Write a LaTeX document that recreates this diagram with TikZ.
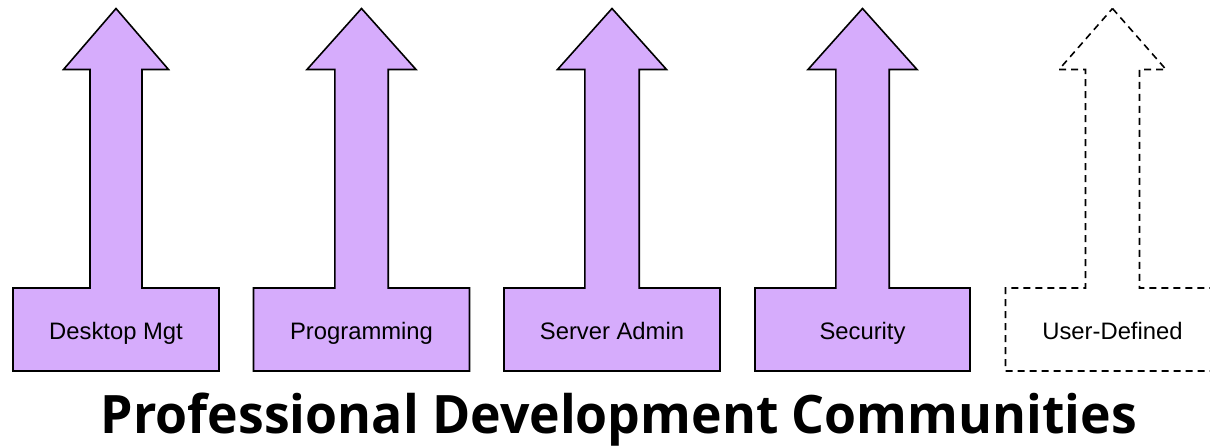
\documentclass[tikz,border=0pt]{standalone}
\usepackage{fontspec}
\setmainfont{Liberation Sans}
\newfontfamily\titlefont{Open Sans}
\definecolor{lav}{RGB}{214,172,252}
\begin{document}
\begin{tikzpicture}[x=1pt,y=-1pt,
  arrowshape/.style={draw=black,line width=1.6pt,line join=miter},
  filledarrow/.style={arrowshape,fill=lav},
  dashedarrow/.style={arrowshape,dash pattern=on 7pt off 5pt},
  lbl/.style={font=\fontsize{23.8}{28}\selectfont,inner sep=0pt,anchor=base},
  titlestyle/.style={font=\titlefont\bfseries\fontsize{53}{60}\selectfont,inner sep=0pt,anchor=base}]
\useasboundingbox (0,0) rectangle (1210,445);
\clip (0,0) rectangle (1210,445);
\def\tipy{8.5}\def\heady{69.5}\def\boxtop{288}\def\boxbot{371}
\foreach \cx/\hw/\sw/\bw/\txt/\nm in {116/52.5/26/103/Desktop Mgt/a1,361.5/54.5/26.7/108/Programming/a2,612/54.5/27.2/108/Server Admin/a3,862.5/54.5/26.7/107.5/Security/a4}{
  \draw[filledarrow] (\cx,\tipy) -- (\cx+\hw,\heady) -- (\cx+\sw,\heady) -- (\cx+\sw,\boxtop)
    -- (\cx+\bw,\boxtop) -- (\cx+\bw,\boxbot) -- (\cx-\bw,\boxbot) -- (\cx-\bw,\boxtop)
    -- (\cx-\sw,\boxtop) -- (\cx-\sw,\heady) -- (\cx-\hw,\heady) -- cycle;
  \node[lbl] (\nm) at (\cx,339.5) {\txt};
}
\def\cx{1112.5}\def\hw{53.5}\def\sw{27}\def\bw{107}
\draw[dashedarrow] (\cx,\tipy) -- (\cx+\hw,\heady) -- (\cx+\sw,\heady) -- (\cx+\sw,\boxtop)
    -- (\cx+\bw,\boxtop) -- (\cx+\bw,\boxbot) -- (\cx-\bw,\boxbot) -- (\cx-\bw,\boxtop)
    -- (\cx-\sw,\boxtop) -- (\cx-\sw,\heady) -- (\cx-\hw,\heady) -- cycle;
\node[lbl] (a5) at (\cx,339.5) {User-Defined};
\node[titlestyle] (title) at (619,433.5) {\resizebox{1036pt}{\height}{Professional Development Communities}};
\end{tikzpicture}
\end{document}
